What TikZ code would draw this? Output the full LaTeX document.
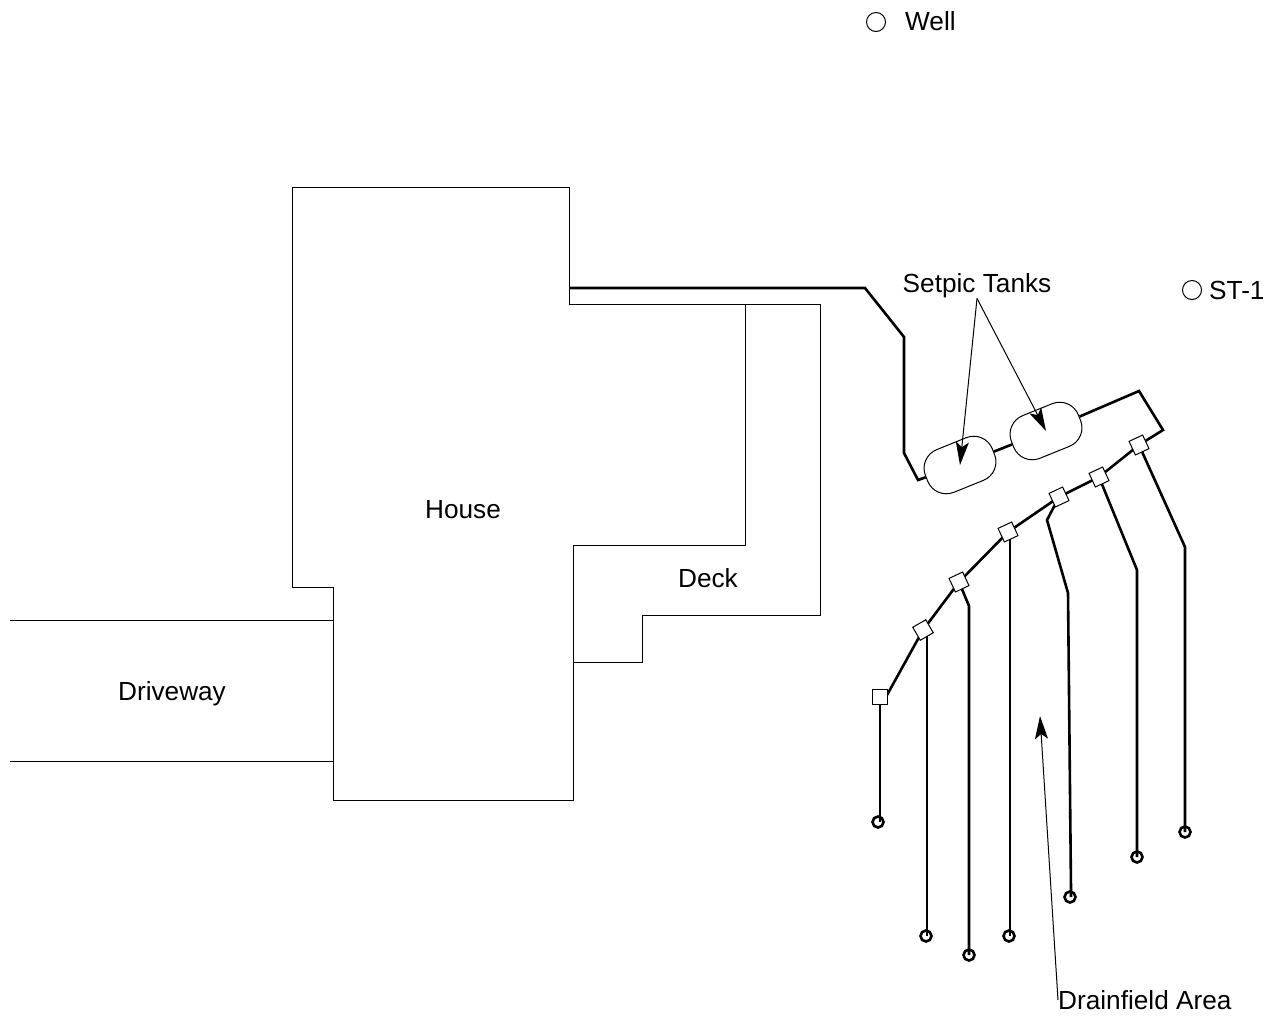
\documentclass[tikz,border=0pt]{standalone}
\usepackage{fontspec}
\setmainfont{Liberation Sans}
\usepackage{tikz}
\usetikzlibrary{
  backgrounds,
  arrows.meta,
}
\tikzset{
  caption/.style={
    inner sep=0pt,
    font=\fontsize{26.2}{30}\selectfont
  },
  outline/.style={
    line width=0.9pt
  },
  pipe/.style={
    line width=2.6pt,
    line join=miter
  },
  tank/.style={
    rectangle,
    rounded corners=20pt,
    minimum width=72pt,
    minimum height=46pt,
    line width=1pt,
    draw=black,
    fill=white
  },
  dbox/.style={
    rectangle,
    minimum size=15pt,
    inner sep=0pt,
    line width=1pt,
    draw=black,
    fill=white
  },
  vent/.style={
    circle,
    minimum size=11pt,
    inner sep=0pt,
    line width=2.6pt,
    draw=black
  },
  marker/.style={
    circle,
    minimum size=19pt,
    inner sep=0pt,
    line width=1pt,
    draw=black
  },
  leader/.style={
    line width=1pt,
    -{Stealth[length=23pt,width=13pt,inset=5pt]}
  },
}
\begin{document}
\begin{tikzpicture}[x=1pt, y=-1pt]
  \useasboundingbox (0,0) rectangle (1276,1018);

  % Building outlines
  \draw [outline] (292,187) -- (569,187) -- (569,304) -- (745,304) -- (745,545)
    -- (573,545) -- (573,800) -- (333,800) -- (333,587) -- (292,587) -- cycle;
  \draw [outline] (745,304) -- (820,304) -- (820,615) -- (642,615) -- (642,662) -- (573,662);
  \draw [outline] (10,620) -- (333,620);
  \draw [outline] (10,761) -- (333,761);

  % Labels
  \node (house) [caption] at (463,510) {House};
  \node (deck) [caption] at (708,578) {Deck};
  \node (driveway) [caption] at (172,694) {Driveway};
  \node (well_mark) [marker] at (876,22) {};
  \node (well) [caption, anchor=west] at (905,21) {Well};
  \node (st_mark) [marker] at (1192,290) {};
  \node (st) [caption, anchor=west] at (1209,290) {ST-1};
  \node (setpic) [caption] at (977,286) {Setpic Tanks};
  \node (drainfield) [caption, anchor=west] at (1058,1000) {Drainfield Area};

  % Tanks
  \node (tank_a) [tank, rotate=22] at (960,465) {};
  \node (tank_b) [tank, rotate=22] at (1046,431) {};

  % Distribution boxes
  \node (box_a) [dbox] at (880,697) {};
  \node (box_b) [dbox, rotate=30] at (923,630) {};
  \node (box_c) [dbox, rotate=25] at (959,582) {};
  \node (box_d) [dbox, rotate=25] at (1008,532) {};
  \node (box_e) [dbox, rotate=25] at (1059,497) {};
  \node (box_f) [dbox, rotate=25] at (1099,477) {};
  \node (box_g) [dbox, rotate=25] at (1139,445) {};

  % Line ends
  \node (vent_a) [vent] at (878,822) {};
  \node (vent_b) [vent] at (926,936) {};
  \node (vent_c) [vent] at (969,955) {};
  \node (vent_d) [vent] at (1009,936) {};
  \node (vent_e) [vent] at (1070,897) {};
  \node (vent_f) [vent] at (1137,857) {};
  \node (vent_g) [vent] at (1185,832) {};

  \coordinate (chain_start) at (887,695);
  \coordinate (drop_b) at (927,630);
  \coordinate (bend_c) at (969,606);
  \coordinate (drop_d) at (1010,532);
  \coordinate (bend_e) at (1047,520);
  \coordinate (knee_e) at (1068,593);
  \coordinate (bend_f) at (1137,570);
  \coordinate (bend_g) at (1185,547);

  % Pipes
  \begin{scope}[on background layer]
    \draw [pipe] (569,288) -- (865,288) -- (904,337) -- (904,453) -- (918,480) -- (tank_a);
    \draw [pipe] (tank_a) -- (tank_b);
    \draw [pipe] (tank_b) -- (1139,391) -- (1163,430) -- (box_g);
    \draw [pipe] (chain_start) -- (box_b.center) -- (box_c.center) -- (box_d.center)
      -- (box_e.center) -- (box_f.center) -- (box_g.center);
    \draw [pipe] (box_a.center) -- (box_a |- vent_a);
    \draw [pipe] (drop_b) -- (drop_b |- vent_b);
    \draw [pipe] (box_c.center) -- (bend_c) -- (bend_c |- vent_c);
    \draw [pipe] (drop_d) -- (drop_d |- vent_d);
    \draw [pipe] (box_e.center) -- (bend_e) -- (knee_e) -- (1071,890) -- (1071,897);
    \draw [pipe] (box_f.center) -- (bend_f) -- (bend_f |- vent_f);
    \draw [pipe] (box_g.center) -- (bend_g) -- (bend_g |- vent_g);
  \end{scope}

  % Arrows
  \draw [leader] (setpic.south) -- (tank_a.center);
  \draw [leader] (setpic.south) -- (tank_b.center);
  \coordinate (drain_tip) at (1040,716);
  \draw [leader] (drainfield.west) -- (drain_tip);

\end{tikzpicture}
\end{document}
